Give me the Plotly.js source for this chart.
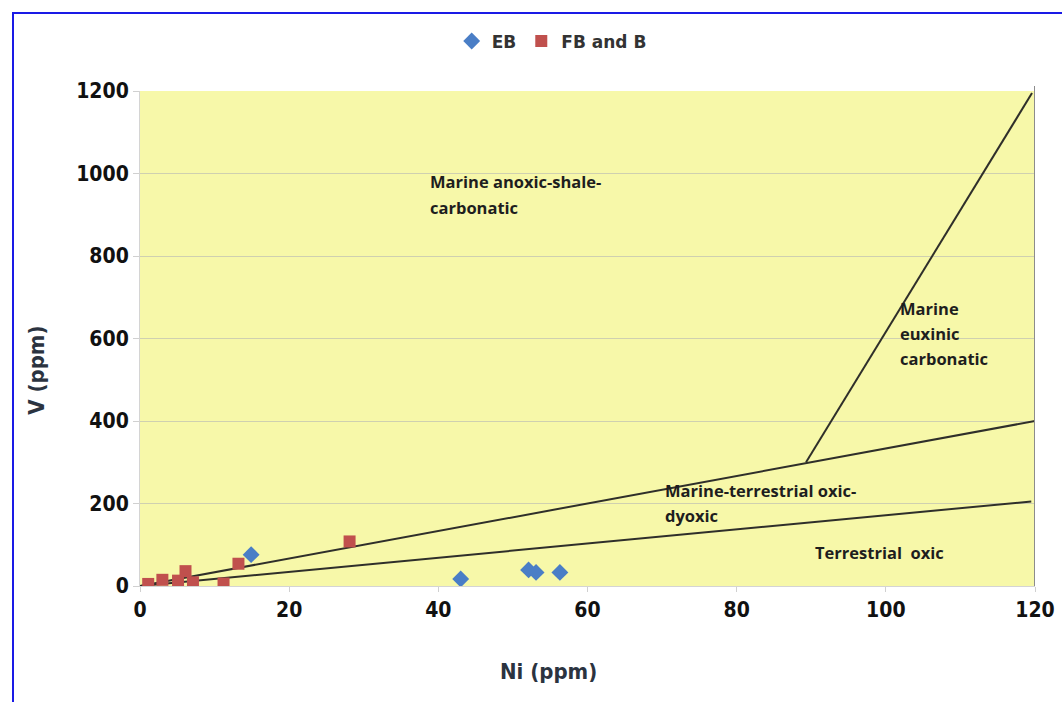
<!DOCTYPE html>
<html>
<head>
<meta charset="utf-8">
<script src="https://cdn.plot.ly/plotly-3.0.1.min.js"></script>
<style>
  html, body { margin: 0; padding: 0; background: #ffffff; }
  #chart { width: 1062px; height: 702px; }
  #frame { position: absolute; left: 12px; top: 12px; width: 1100px; height: 800px;
           border: 2px solid #1a1ae6; box-sizing: border-box; pointer-events: none; }
</style>
</head>
<body>
<div id="chart"></div>
<div id="frame"></div>
<script>
// Data
const ebNi = [14.9, 43.0, 52.1, 53.1, 56.3];
const ebV  = [76, 17, 39, 33, 33];

const fbNi = [1.1, 3.0, 5.1, 6.1, 7.1, 11.2, 13.2, 28.1];
const fbV  = [5, 15, 13, 36, 9, 6, 54, 108];

// Discrimination boundary lines (Ni, V)
const line1Ni = [0, 120];
const line1V  = [0, 400];
const line2Ni = [0, 119.5];
const line2V  = [0, 205];
const line3Ni = [89.3, 119.6];
const line3V  = [300, 1195];

// Field labels
const fieldLines = [
  {text: 'Marine anoxic-shale-', ni: 38.6, v: 981},
  {text: 'carbonatic', ni: 38.6, v: 918},
  {text: 'Marine', ni: 101.6, v: 673},
  {text: 'euxinic', ni: 101.6, v: 613},
  {text: 'carbonatic', ni: 101.6, v: 552},
  {text: 'Marine-terrestrial oxic-', ni: 70.1, v: 232},
  {text: 'dyoxic', ni: 70.1, v: 171},
  {text: 'Terrestrial  oxic', ni: 90.2, v: 82}
];

const xTicks = [0, 20, 40, 60, 80, 100, 120];
const yTicks = [0, 200, 400, 600, 800, 1000, 1200];
const xTitle = 'Ni (ppm)';
const yTitle = 'V (ppm)';

const lineStyle = {color: '#2f2f2a', width: 2};

const traces = [
  {x: line1Ni, y: line1V, mode: 'lines', line: lineStyle, showlegend: false, hoverinfo: 'skip'},
  {x: line2Ni, y: line2V, mode: 'lines', line: lineStyle, showlegend: false, hoverinfo: 'skip'},
  {x: line3Ni, y: line3V, mode: 'lines', line: lineStyle, showlegend: false, hoverinfo: 'skip'},
  {x: ebNi, y: ebV, name: 'EB', type: 'scatter', mode: 'markers',
   marker: {symbol: 'diamond', size: 13, color: '#4a7ec6'}},
  {x: fbNi, y: fbV, name: 'FB and B', type: 'scatter', mode: 'markers',
   marker: {symbol: 'square', size: 12, color: '#c0504d'}}
];

const condFamily = '"DejaVu Sans Condensed", "Liberation Sans Narrow", "Liberation Sans", Arial, sans-serif';
const tickFont = {family: condFamily, size: 21, color: '#111111', weight: 'bold'};
const titleFont = {family: condFamily, size: 22, color: '#2b3340', weight: 'bold'};

const annFont = {family: '"Open Sans", "Noto Sans", sans-serif', size: 16.5, color: '#1e1e1e', weight: 'bold'};

const annotations = fieldLines.map(f => ({
  x: f.ni, y: f.v, xref: 'x', yref: 'y', text: f.text, showarrow: false,
  xanchor: 'left', yanchor: 'middle', align: 'left', font: annFont
}));
annotations.push({x: 0.456, y: -0.172, xref: 'paper', yref: 'paper', text: xTitle, showarrow: false,
  xanchor: 'center', yanchor: 'middle', font: titleFont});
annotations.push({x: -0.115, y: 0.435, xref: 'paper', yref: 'paper', text: yTitle, showarrow: false,
  textangle: -90, xanchor: 'center', yanchor: 'middle', font: titleFont});

const layout = {
  width: 1062, height: 702,
  margin: {l: 140, r: 27, t: 91, b: 116},
  paper_bgcolor: '#ffffff',
  plot_bgcolor: '#f7f8a9',
  showlegend: true,
  legend: {orientation: 'h', x: 0.46, xanchor: 'center', y: 1.10, yanchor: 'middle',
           font: {family: '"DejaVu Sans", Verdana, sans-serif', size: 17, color: '#333333', weight: 'bold'},
           itemwidth: 30, tracegroupgap: 0, bgcolor: 'rgba(0,0,0,0)'},
  xaxis: {
    range: [0, 120], tickvals: xTicks, ticktext: xTicks.map(String),
    showgrid: false, zeroline: false,
    showline: true, linecolor: '#d4d4d4', linewidth: 1,
    ticks: 'outside', ticklen: 5, tickcolor: '#d0d0d0',
    tickfont: tickFont
  },
  yaxis: {
    range: [0, 1200], tickvals: yTicks, ticktext: yTicks.map(String),
    showgrid: true, gridcolor: '#cfd0b0', gridwidth: 1, zeroline: false,
    showline: true, linecolor: '#d4d4d4', linewidth: 1,
    ticks: 'outside', ticklen: 6, tickcolor: '#d0d0d0',
    tickfont: tickFont
  },
  shapes: [
    {type: 'line', xref: 'x', yref: 'paper', x0: 120, x1: 120, y0: 0, y1: 1.01,
     line: {color: '#8c8c8c', width: 2}}
  ],
  annotations: annotations
};

Plotly.newPlot('chart', traces, layout, {displayModeBar: false, staticPlot: true});
</script>
</body>
</html>
